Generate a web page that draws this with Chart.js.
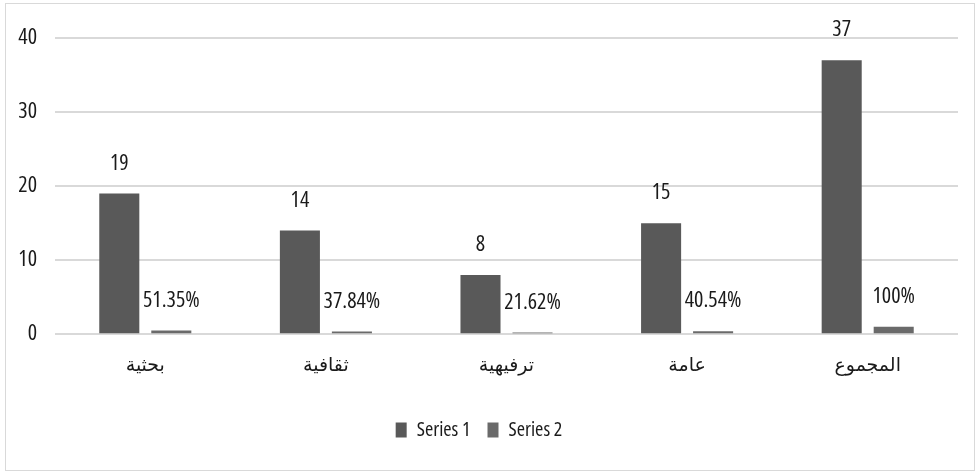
<!DOCTYPE html>
<html>
<head>
<meta charset="utf-8">
<script src="https://cdn.jsdelivr.net/npm/chart.js@4"></script>
<style>
    html, body { margin: 0; padding: 0; background: #ffffff; }
    #wrap { width: 979px; height: 474px; }
</style>
</head>
<body>
<div id="wrap"><canvas id="chart" width="979" height="474"></canvas></div>
<script>
const categories = ['بحثية', 'ثقافية', 'ترفيهية', 'عامة', 'المجموع'];
const series1 = [19, 14, 8, 15, 37];
const series2 = [0.5135, 0.3784, 0.2162, 0.4054, 1];
const yTicks = [0, 10, 20, 30, 40];

const FONT = '"Open Sans", "DejaVu Sans", sans-serif';
// Chart.js puts "weight" just before the size in the font string, so the
// stretch keyword can ride along there to get the narrow Open Sans cut
const NARROW = 'condensed';

function formatValue(datasetIndex, value) {
    if (datasetIndex === 1) {
        return (Math.round(value * 10000) / 100) + '%';
    }
    return String(value);
}

// frame round the chart and the value labels over the bars
const decorations = {
    id: 'decorations',
    beforeDraw(chart) {
        const ctx = chart.ctx;
        ctx.save();
        ctx.fillStyle = '#ffffff';
        ctx.fillRect(0, 0, chart.width, chart.height);
        ctx.strokeStyle = '#d9d9d9';
        ctx.lineWidth = 1;
        ctx.strokeRect(5.5, 3.5, chart.width - 10, chart.height - 7);
        ctx.restore();
    },
    afterDatasetsDraw(chart) {
        const ctx = chart.ctx;
        ctx.save();
        ctx.font = NARROW + ' 22px ' + FONT;
        ctx.fillStyle = '#1a1a1a';
        ctx.textAlign = 'center';
        ctx.textBaseline = 'middle';
        chart.data.datasets.forEach((ds, di) => {
            const meta = chart.getDatasetMeta(di);
            meta.data.forEach((bar, i) => {
                ctx.fillText(formatValue(di, ds.data[i]), bar.x, bar.y - 30);
            });
        });
        ctx.restore();
    }
};

new Chart(document.getElementById('chart'), {
    type: 'bar',
    data: {
        labels: categories,
        datasets: [
            { label: 'Series 1', data: series1, backgroundColor: '#595959' },
            { label: 'Series 2', data: series2, backgroundColor: '#6a6a6a' }
        ]
    },
    options: {
        responsive: false,
        animation: false,
        events: [],
        layout: { padding: { top: 38, right: 21, bottom: 24, left: 0 } },
        datasets: {
            bar: { categoryPercentage: 0.576, barPercentage: 0.77 }
        },
        scales: {
            x: {
                afterFit(scale) {
                    // extra room between the category names and the legend
                    scale.height = scale.height + 14;
                },
                grid: { display: false },
                border: { display: false },
                ticks: {
                    color: '#1a1a1a',
                    font: { size: 19, family: FONT },
                    padding: 12
                }
            },
            y: {
                min: 0,
                max: 40,
                afterBuildTicks(scale) {
                    scale.ticks = yTicks.map(v => ({ value: v }));
                },
                afterFit(scale) {
                    scale.width = 55;
                },
                grid: { color: '#d9d9d9', lineWidth: 2, drawTicks: false },
                border: { display: false },
                ticks: {
                    color: '#1a1a1a',
                    font: { size: 22, family: FONT, weight: NARROW },
                    padding: 18
                }
            }
        },
        plugins: {
            legend: {
                position: 'bottom',
                labels: {
                    color: '#1a1a1a',
                    font: { size: 20, family: FONT, weight: NARROW },
                    boxWidth: 11,
                    boxHeight: 15,
                    padding: 17
                }
            },
            tooltip: { enabled: false }
        }
    },
    plugins: [decorations]
});
</script>
</body>
</html>
